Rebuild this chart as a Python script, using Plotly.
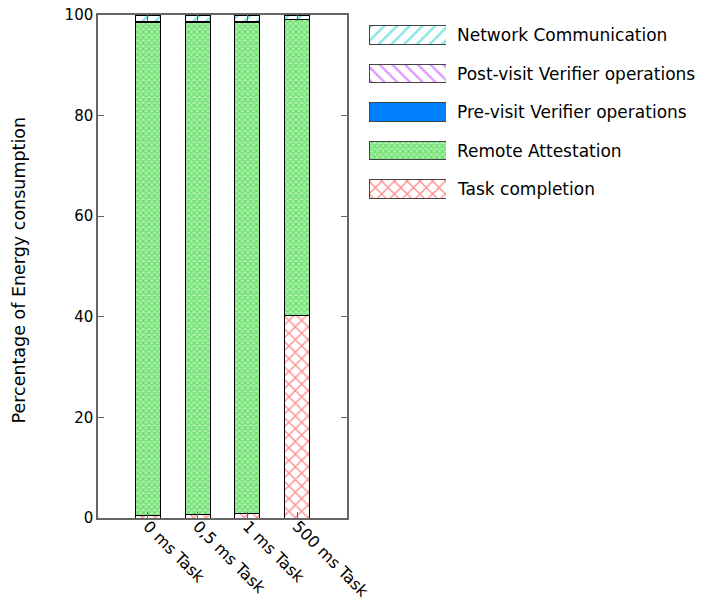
import plotly.graph_objects as go

categories = ["0 ms Task", "0,5 ms Task", "1 ms Task", "500 ms Task"]
task_completion = [0.4, 0.7, 0.8, 40.3]
remote_attestation = [98.2, 97.9, 97.8, 58.8]
pre_visit = [0.05, 0.05, 0.05, 0.05]
post_visit = [0.05, 0.05, 0.05, 0.05]
network_comm = [1.3, 1.3, 1.3, 0.8]
series_names = ["Task completion", "Remote Attestation", "Pre-visit Verifier operations",
                "Post-visit Verifier operations", "Network Communication"]
series_values = [task_completion, remote_attestation, pre_visit, post_visit, network_comm]
legend_box = [1, 1, 1, 1, 1]
y_title = "Percentage of Energy consumption"

styles = [
    dict(color="white", pattern=dict(shape="x", fgcolor="#ff2222", bgcolor="white", size=9, solidity=0.3)),
    dict(color="white", pattern=dict(shape="x", fgcolor="#22cc22", bgcolor="#aef0ae", size=4, solidity=0.5)),
    dict(color="#0080ff"),
    dict(color="white", pattern=dict(shape="\\", fgcolor="#bb22ff", bgcolor="white", size=9, solidity=0.25)),
    dict(color="white", pattern=dict(shape="/", fgcolor="#11cccc", bgcolor="white", size=9, solidity=0.28)),
]

W, H = 707, 604
L, R, T, B = 98, 8, 15, 86
pw = W - L - R
ph = H - T - B

fig = go.Figure()
for name, vals, st in zip(series_names, series_values, styles):
    marker = dict(st, line=dict(color="black", width=1))
    fig.add_trace(go.Bar(x=categories, y=vals, name=name, marker=marker, width=0.5,
                         showlegend=False, xaxis="x", yaxis="y"))

# custom legend drawn as bars on a helper axis
for i, (name, st) in enumerate(zip(series_names, styles)):
    marker = dict(st, line=dict(color="#444444", width=1))
    fig.add_trace(go.Bar(y=[name], x=[legend_box[i]], orientation="h", width=0.47,
                         marker=marker, showlegend=False, xaxis="x2", yaxis="y2",
                         hoverinfo="skip"))
    fig.add_annotation(x=1, y=name, xref="x2", yref="y2", text=name, showarrow=False,
                       xanchor="left", yanchor="middle", xshift=9,
                       font=dict(family="DejaVu Sans", size=17, color="black"))

fig.add_annotation(x=0, y=0.5, xref="paper", yref="paper", text=y_title, textangle=-90,
                   showarrow=False, xanchor="center", yanchor="middle", xshift=-80, yshift=-4,
                   font=dict(family="DejaVu Sans", size=17.5, color="black"))

main_right = 347
leg_l, leg_r = 369, 446
leg_top_center, leg_bot_center = 35, 189
step = (leg_bot_center - leg_top_center) / 4
y2_top_px = leg_top_center - step / 2
y2_bot_px = leg_bot_center + step / 2

fig.update_layout(
    barmode="stack",
    width=W, height=H,
    margin=dict(l=L, r=R, t=T, b=B),
    plot_bgcolor="white", paper_bgcolor="white",
    font=dict(family="DejaVu Sans", size=15, color="black"),
    showlegend=False,
    xaxis=dict(domain=[0, (main_right - L) / pw], range=[-1, 4], tickangle=45,
               ticks="inside", ticklen=6, automargin=False, ticklabelstandoff=-9,
               showline=True, linecolor="#666666", linewidth=1.5, mirror="ticks",
               tickcolor="#666666", showgrid=False, tickfont=dict(size=16)),
    yaxis=dict(range=[0, 100], dtick=20, ticks="inside", ticklen=6, automargin=False,
               showline=True, linecolor="#666666", linewidth=1.5, mirror="ticks",
               tickcolor="#666666", showgrid=False, zeroline=False,
               tickfont=dict(size=15)),
    xaxis2=dict(domain=[(leg_l - L) / pw, (leg_r - L) / pw], range=[0, 1], anchor="y2",
                visible=False, fixedrange=True),
    yaxis2=dict(domain=[1 - (y2_bot_px - T) / ph, 1 - (y2_top_px - T) / ph], anchor="x2",
                range=[-0.5, 4.5], visible=False, categoryorder="array",
                categoryarray=series_names, fixedrange=True),
)

fig.write_html("out.html")
